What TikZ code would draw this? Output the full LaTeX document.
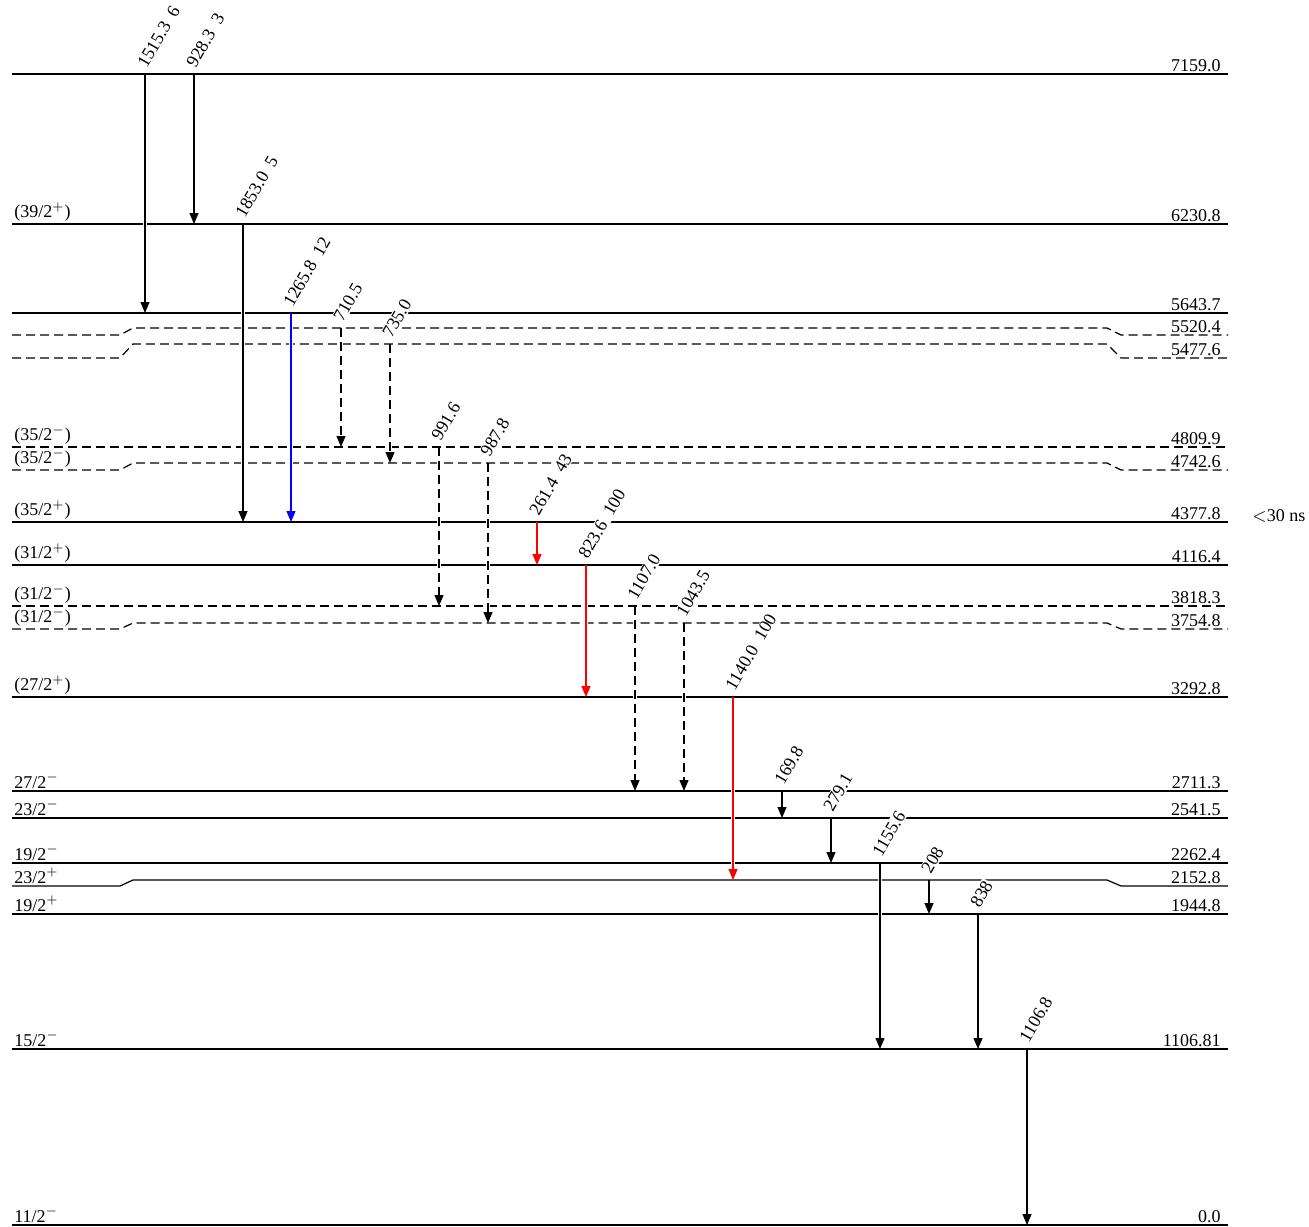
\documentclass[tikz,border=0pt]{standalone}
\usepackage{fontspec}
\setmainfont{Liberation Serif}
\usepackage{tikz}
\usetikzlibrary{arrows.meta}
\tikzset{
  lvline/.style={line width=0.6pt},
  lvdash/.style={lvline, dash pattern=on 4.5pt off 2.5pt},
  spinlab/.style={anchor=south west, inner sep=1pt, font=\fontsize{9}{10}\selectfont},
  enlab/.style={anchor=south east, inner sep=1pt, font=\fontsize{9}{10}\selectfont},
  gam/.style={line width=0.6pt, -{Triangle[length=5.5pt,width=4.5pt]},
    preaction={draw=white, line width=2pt, -, solid, shorten <=3pt, shorten >=3pt}},
  gamd/.style={gam, dash pattern=on 4.5pt off 2.5pt},
  gamr/.style={gam, red},
  gamb/.style={gam, blue},
  glab/.style={rotate=60, anchor=west, fill=white, inner sep=0.5pt,
    font=\fontsize{9}{10}\selectfont}
}

\begin{document}
\begin{tikzpicture}[x=0.5pt,y=-0.5pt]
  \useasboundingbox (0,0) rectangle (1309,1226);

  % levels: name / side y / middle y / energy / style
  \foreach \n/\ys/\ym/\en/\st in {7159/74/74/7159.0/lvline, 6230/224/224/6230.8/lvline,
      5643/313/313/5643.7/lvline, 5520/335/328/5520.4/lvdash, 5477/358/344/5477.6/lvdash,
      4809/447/447/4809.9/lvdash, 4742/470/463/4742.6/lvdash, 4377/522/522/4377.8/lvline,
      4116/565/565/4116.4/lvline, 3818/606/606/3818.3/lvdash, 3754/629/623/3754.8/lvdash,
      3292/697/697/3292.8/lvline, 2711/791/791/2711.3/lvline, 2541/818/818/2541.5/lvline,
      2262/863/863/2262.4/lvline, 2152/886/880/2152.8/lvline, 1944/914/914/1944.8/lvline,
      1106/1049/1049/1106.81/lvline, 0/1225/1225/0.0/lvline}{
    \coordinate (l\n) at (0,\ym);
    \draw[\st] (12,\ys) -- (120,\ys) -- (133,\ym) -- (1107,\ym) -- (1121,\ys) -- (1228,\ys);
    \node[enlab] (e\n) at (1223,\ys) {\en};
  }

  % spins
  \node[spinlab] (s6230) at (12,224) {(39/2$^+$)};
  \node[spinlab] (s4809) at (12,447) {(35/2$^-$)};
  \node[spinlab] (s4742) at (12,470) {(35/2$^-$)};
  \node[spinlab] (s4377) at (12,522) {(35/2$^+$)};
  \node[spinlab] (s4116) at (12,565) {(31/2$^+$)};
  \node[spinlab] (s3818) at (12,606) {(31/2$^-$)};
  \node[spinlab] (s3754) at (12,629) {(31/2$^-$)};
  \node[spinlab] (s3292) at (12,697) {(27/2$^+$)};
  \node[spinlab] (s2711) at (12,791) {27/2$^-$};
  \node[spinlab] (s2541) at (12,818) {23/2$^-$};
  \node[spinlab] (s2262) at (12,863) {19/2$^-$};
  \node[spinlab] (s2152) at (12,886) {23/2$^+$};
  \node[spinlab] (s1944) at (12,914) {19/2$^+$};
  \node[spinlab] (s1106) at (12,1049) {15/2$^-$};
  \node[spinlab] (s0) at (12,1225) {11/2$^-$};

  \node[anchor=west, inner sep=1pt, font=\fontsize{9}{10}\selectfont] (life) at (1250,516) {$<$30 ns};

  % transitions: x / from / to / label / style
  \foreach \x/\a/\b/\txt/\st in {145/l7159/l5643/{1515.3\ \ 6}/gam,
      194/l7159/l6230/{928.3\ \ 3}/gam, 243/l6230/l4377/{1853.0\ \ 5}/gam,
      291/l5643/l4377/{1265.8\ \ 12}/gamb, 341/l5520/l4809/{710.5}/gamd,
      390/l5477/l4742/{735.0}/gamd, 439/l4809/l3818/{991.6}/gamd,
      488/l4742/l3754/{987.8}/gamd, 537/l4377/l4116/{261.4\ \ 43}/gamr,
      586/l4116/l3292/{823.6\ \ 100}/gamr, 635/l3818/l2711/{1107.0}/gamd,
      684/l3754/l2711/{1043.5}/gamd, 733/l3292/l2152/{1140.0\ \ 100}/gamr,
      782/l2711/l2541/{169.8}/gam, 831/l2541/l2262/{279.1}/gam,
      880/l2262/l1106/{1155.6}/gam, 929/l2152/l1944/{208}/gam,
      978/l1944/l1106/{838}/gam, 1027/l1106/l0/{1106.8}/gam}{
    \draw[\st] (\x,0 |- \a) -- (\x,0 |- \b);
    \node[xshift=-2pt, yshift=3.5pt, glab] (g\x) at (\x,0 |- \a) {\txt};
  }
\end{tikzpicture}
\end{document}
